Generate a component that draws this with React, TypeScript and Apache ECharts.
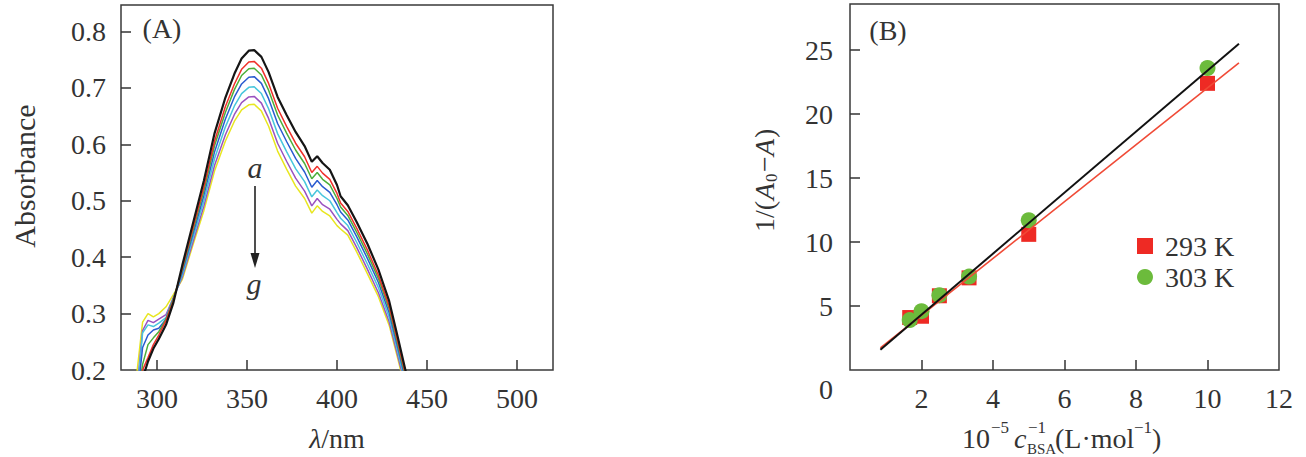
import React, { useEffect, useRef } from 'react';
import * as echarts from 'echarts';

// ---------- Panel A: absorption spectra ----------
const WAVELENGTHS = [287, 289, 292, 295, 298, 301, 305, 309, 314, 320, 326, 332, 338, 343, 347, 351, 354, 358, 362, 367, 372, 377, 382, 386, 389, 392, 396, 400, 402, 406, 411, 417, 423, 429, 434, 438, 441];
const CURVE_A = [0.05, 0.12, 0.185, 0.215, 0.238, 0.255, 0.28, 0.318, 0.385, 0.46, 0.535, 0.62, 0.683, 0.725, 0.752, 0.766, 0.767, 0.755, 0.728, 0.684, 0.652, 0.622, 0.597, 0.569, 0.579, 0.567, 0.555, 0.528, 0.508, 0.492, 0.462, 0.423, 0.378, 0.322, 0.255, 0.2, 0.16];
const CURVE_B = [0.06, 0.13, 0.2, 0.222, 0.245, 0.262, 0.288, 0.322, 0.38, 0.452, 0.524, 0.606, 0.667, 0.707, 0.733, 0.746, 0.747, 0.735, 0.708, 0.664, 0.632, 0.602, 0.578, 0.55, 0.561, 0.549, 0.538, 0.513, 0.496, 0.481, 0.451, 0.412, 0.368, 0.313, 0.247, 0.193, 0.154];
const CURVE_C = [0.07, 0.14, 0.21, 0.245, 0.257, 0.268, 0.29, 0.325, 0.377, 0.447, 0.517, 0.598, 0.657, 0.697, 0.722, 0.734, 0.735, 0.723, 0.696, 0.652, 0.62, 0.59, 0.566, 0.539, 0.55, 0.538, 0.528, 0.504, 0.489, 0.474, 0.444, 0.405, 0.362, 0.308, 0.242, 0.189, 0.15];
const CURVE_D = [0.08, 0.15, 0.24, 0.262, 0.271, 0.274, 0.29, 0.325, 0.373, 0.441, 0.509, 0.587, 0.645, 0.684, 0.707, 0.719, 0.72, 0.708, 0.681, 0.637, 0.605, 0.575, 0.551, 0.524, 0.536, 0.525, 0.515, 0.493, 0.48, 0.466, 0.436, 0.397, 0.355, 0.301, 0.236, 0.184, 0.146];
const CURVE_E = [0.09, 0.16, 0.266, 0.28, 0.277, 0.283, 0.293, 0.326, 0.368, 0.434, 0.499, 0.575, 0.631, 0.668, 0.69, 0.701, 0.702, 0.69, 0.663, 0.619, 0.587, 0.557, 0.534, 0.507, 0.519, 0.509, 0.5, 0.479, 0.469, 0.456, 0.426, 0.387, 0.346, 0.293, 0.229, 0.177, 0.14];
const CURVE_F = [0.1, 0.17, 0.27, 0.288, 0.284, 0.29, 0.298, 0.328, 0.364, 0.427, 0.49, 0.563, 0.617, 0.653, 0.674, 0.684, 0.685, 0.673, 0.646, 0.602, 0.57, 0.54, 0.517, 0.491, 0.504, 0.493, 0.485, 0.467, 0.459, 0.447, 0.417, 0.378, 0.337, 0.285, 0.222, 0.171, 0.135];
const CURVE_G = [0.12, 0.2, 0.285, 0.3, 0.294, 0.3, 0.312, 0.333, 0.36, 0.422, 0.482, 0.553, 0.606, 0.641, 0.661, 0.67, 0.671, 0.659, 0.632, 0.588, 0.556, 0.526, 0.504, 0.478, 0.491, 0.481, 0.473, 0.456, 0.45, 0.439, 0.409, 0.37, 0.33, 0.279, 0.217, 0.166, 0.131];
const CURVE_NAMES = ['a', 'b', 'c', 'd', 'e', 'f', 'g'];
const CURVE_COLORS = ['#151515', '#f0302a', '#4caf3a', '#2a5bd0', '#48c6dc', '#9a52c0', '#e8e620'];
const A_X_TICKS = [300, 350, 400, 450, 500];
const A_Y_TICKS = [0.2, 0.3, 0.4, 0.5, 0.6, 0.7, 0.8];

// ---------- Panel B: double reciprocal plot ----------
const CONC_INV = [1.67, 2.0, 2.5, 3.33, 5.0, 10.0];
const INV_293 = [4.1, 4.2, 5.8, 7.2, 10.6, 22.4];
const INV_303 = [3.9, 4.6, 5.85, 7.3, 11.7, 23.6];
const FIT_X = [0.85, 10.88];
const FIT_293 = [1.72, 24.0];
const FIT_303 = [1.58, 25.5];
const B_X_LABELS = [2, 4, 6, 8, 10, 12];
const B_X_TICKS = [2, 4, 6, 8, 10];
const B_Y_TICKS = [5, 10, 15, 20, 25];

const FONT = "'Liberation Serif', 'Times New Roman', serif";
const INK = '#333';

function zip(xs: number[], ys: number[]) {
  return xs.map((x, i) => [x, ys[i]]);
}

function txt(x: number, y: number, text: string, size: number, extra: any = {}) {
  return {
    type: 'text',
    x,
    y,
    z: 100,
    ...(extra.el || {}),
    style: {
      text,
      fill: INK,
      fontSize: size,
      fontFamily: FONT,
      textAlign: 'center',
      textVerticalAlign: 'middle',
      ...(extra.style || {}),
    },
  };
}

export default function App() {
  const ref = useRef<HTMLDivElement>(null);
  useEffect(() => {
    const chart = echarts.init(ref.current!, null, { renderer: 'svg' });
    const curves = [CURVE_A, CURVE_B, CURVE_C, CURVE_D, CURVE_E, CURVE_F, CURVE_G];
    const spectra = curves
      .map((c, i) => ({
        name: CURVE_NAMES[i],
        type: 'line',
        xAxisIndex: 0,
        yAxisIndex: 0,
        data: zip(WAVELENGTHS, c),
        showSymbol: false,
        clip: true,
        z: 10 - i,
        lineStyle: { color: CURVE_COLORS[i], width: i === 0 ? 2.2 : 1.5 },
        itemStyle: { color: CURVE_COLORS[i] },
      }));

    const axisCommon = {
      type: 'value',
      splitLine: { show: false },
      axisLine: { show: false },
      axisLabel: { color: INK, fontSize: 28, fontFamily: FONT, margin: 14 },
    };
    const tick = (vals: number[]) => ({
      show: true,
      inside: true,
      length: 10,
      lineStyle: { color: INK, width: 1.5 },
      customValues: vals,
    });

    const option: any = {
      animation: false,
      backgroundColor: '#ffffff',
      textStyle: { fontFamily: FONT },
      grid: [
        { left: 121, top: 5, width: 432, height: 365, show: true, borderColor: '#3a3a3a', borderWidth: 1.5, backgroundColor: 'transparent' },
        { left: 850, top: 4, width: 429, height: 366, show: true, borderColor: '#3a3a3a', borderWidth: 1.5, backgroundColor: 'transparent' },
      ],
      xAxis: [
        {
          ...axisCommon,
          gridIndex: 0,
          min: 280,
          max: 520,
          axisTick: tick(A_X_TICKS),
          axisLabel: { ...axisCommon.axisLabel, customValues: A_X_TICKS },
        },
        {
          ...axisCommon,
          gridIndex: 1,
          min: 0,
          max: 12,
          axisTick: tick(B_X_TICKS),
          axisLabel: { ...axisCommon.axisLabel, customValues: B_X_LABELS },
        },
      ],
      yAxis: [
        {
          ...axisCommon,
          gridIndex: 0,
          min: 0.2,
          max: 0.847,
          axisTick: tick(A_Y_TICKS.slice(1)),
          axisLabel: { ...axisCommon.axisLabel, margin: 15, customValues: A_Y_TICKS, formatter: (v: number) => v.toFixed(1) },
        },
        {
          ...axisCommon,
          gridIndex: 1,
          min: 0,
          max: 28.6,
          axisTick: tick(B_Y_TICKS),
          axisLabel: { ...axisCommon.axisLabel, margin: 17, customValues: B_Y_TICKS },
        },
      ],
      legend: {
        orient: 'vertical',
        left: 1137,
        top: 232,
        padding: 0,
        itemWidth: 16,
        itemHeight: 16,
        itemGap: 3,
        data: ['293 K', '303 K'],
        textStyle: { color: INK, fontSize: 28, fontFamily: FONT, padding: [0, 0, 0, 7] },
      },
      series: [
        ...spectra.reverse(),
        {
          name: '293 K',
          type: 'scatter',
          xAxisIndex: 1,
          yAxisIndex: 1,
          symbol: 'rect',
          symbolSize: 15,
          data: zip(CONC_INV, INV_293),
          itemStyle: { color: '#ee2a24', opacity: 1 },
          z: 3,
        },
        {
          name: '303 K',
          type: 'scatter',
          xAxisIndex: 1,
          yAxisIndex: 1,
          symbol: 'circle',
          symbolSize: 16,
          data: zip(CONC_INV, INV_303),
          itemStyle: { color: '#6cbb3c', opacity: 1 },
          z: 4,
        },
        {
          name: 'fit293',
          type: 'line',
          xAxisIndex: 1,
          yAxisIndex: 1,
          data: zip(FIT_X, FIT_293),
          showSymbol: false,
          lineStyle: { color: '#f04a36', width: 1.6 },
          z: 5,
        },
        {
          name: 'fit303',
          type: 'line',
          xAxisIndex: 1,
          yAxisIndex: 1,
          data: zip(FIT_X, FIT_303),
          showSymbol: false,
          lineStyle: { color: '#111111', width: 2 },
          z: 6,
        },
      ],
      graphic: [
        txt(162, 28, '(A)', 28),
        txt(888, 30, '(B)', 28),
        txt(255, 167, 'a', 30, { style: { fontStyle: 'italic' } }),
        {
          type: 'line',
          z: 100,
          shape: { x1: 255, y1: 186, x2: 255, y2: 258 },
          style: { stroke: '#222', lineWidth: 1.6 },
        },
        {
          type: 'polygon',
          z: 100,
          shape: { points: [[250.5, 253], [259.5, 253], [255, 268]] },
          style: { fill: '#222' },
        },
        txt(254, 283, 'g', 30, { style: { fontStyle: 'italic' } }),
        txt(24, 176, 'Absorbance', 30, { el: { rotation: Math.PI / 2 } }),
        {
          type: 'text',
          x: 337,
          y: 438,
          z: 100,
          style: {
            text: '{i|λ}/nm',
            fill: INK,
            fontSize: 28,
            fontFamily: FONT,
            textAlign: 'center',
            textVerticalAlign: 'middle',
            rich: { i: { fontStyle: 'italic', fontSize: 28, fontFamily: FONT, fill: INK } },
          },
        },
        txt(826, 389, '0', 28),
        {
          type: 'group',
          children: [
            txt(962, 438, '10', 28, { style: { textAlign: 'left' } }),
            txt(991, 427, '−5', 17, { style: { textAlign: 'left' } }),
            txt(1014, 438, 'c', 28, { style: { textAlign: 'left', fontStyle: 'italic' } }),
            txt(1028, 427, '−1', 17, { style: { textAlign: 'left' } }),
            txt(1027, 449, 'BSA', 15, { style: { textAlign: 'left' } }),
            txt(1055, 438, '(L·mol', 28, { style: { textAlign: 'left' } }),
            txt(1134, 427, '−1', 17, { style: { textAlign: 'left' } }),
            txt(1152, 438, ')', 28, { style: { textAlign: 'left' } }),
          ],
        },
        {
          type: 'group',
          x: 764,
          y: 180,
          rotation: Math.PI / 2,
          children: [
            txt(-52, 0, '1/(', 28, { style: { textAlign: 'left' } }),
            txt(-20, 0, 'A', 28, { style: { textAlign: 'left', fontStyle: 'italic' } }),
            txt(-2, 7, '0', 17, { style: { textAlign: 'left' } }),
            txt(8, 0, '−', 28, { style: { textAlign: 'left' } }),
            txt(24, 0, 'A', 28, { style: { textAlign: 'left', fontStyle: 'italic' } }),
            txt(42, 0, ')', 28, { style: { textAlign: 'left' } }),
          ],
        },
      ],
    };
    chart.setOption(option);
    return () => chart.dispose();
  }, []);
  return (
    <div
      ref={ref}
      style={{ position: 'fixed', left: 0, top: 0, width: 1306, height: 457, background: '#fff' }}
    />
  );
}
